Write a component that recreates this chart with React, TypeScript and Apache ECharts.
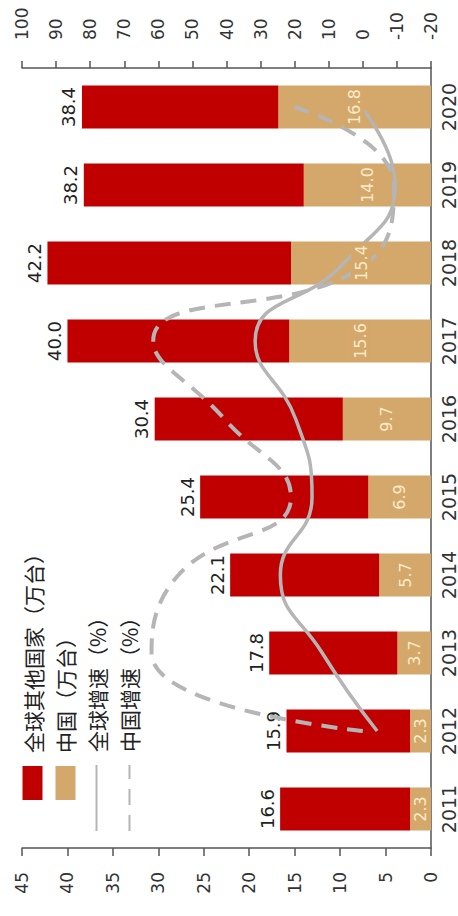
import React, { useEffect, useRef } from "react";
import * as echarts from "echarts";

const years = ["2011", "2012", "2013", "2014", "2015", "2016", "2017", "2018", "2019", "2020"];
const chinaUnits = [2.3, 2.3, 3.7, 5.7, 6.9, 9.7, 15.6, 15.4, 14.0, 16.8];
const otherUnits = [14.3, 13.6, 14.1, 16.4, 18.5, 20.7, 24.4, 26.8, 24.2, 21.6];
const totalLabels = ["16.6", "15.9", "17.8", "22.1", "25.4", "30.4", "40.0", "42.2", "38.2", "38.4"];
const globalGrowth = [null, -4.2, 11.9, 24.2, 14.9, 19.7, 31.6, 5.5, -9.5, 0.5];
const chinaGrowth = [null, 0.0, 62.0, 54.1, 21.1, 40.6, 61.5, -1.3, -9.1, 20.0];

const nameOther = "全球其他国家（万台）";
const nameChina = "中国（万台）";
const nameGlobalG = "全球增速（%）";
const nameChinaG = "中国增速（%）";

const RED = "#c00000";
const TAN = "#d4a76a";
const GREY = "#b5b5b5";
const AXIS = "#555555";
const NUM_FONT = "DejaVu Sans";
const CJK_FONT = "Noto Sans CJK SC";

export default function App() {
  const ref = useRef<HTMLDivElement>(null);
  useEffect(() => {
    if (!ref.current) return;
    const chart = echarts.init(ref.current, undefined, { renderer: "svg" });
    const axisLabelStyle = { color: "#333", fontSize: 17, fontFamily: NUM_FONT };
    const legendText = { color: "#222", fontSize: 21, fontFamily: CJK_FONT, lineHeight: 20, padding: [0, 0, 0, 8] };
    chart.setOption({
      animation: false,
      backgroundColor: "#ffffff",
      grid: { left: 68, right: 68, top: 22, bottom: 27, containLabel: false },
      legend: [
        {
          orient: "vertical",
          left: 111,
          top: 17,
          itemWidth: 34,
          itemHeight: 20,
          itemGap: 12,
          icon: "rect",
          data: [nameOther, nameChina],
          textStyle: legendText,
        },
        {
          orient: "vertical",
          left: 79,
          top: 81,
          itemWidth: 66,
          itemHeight: 20,
          itemGap: 12,
          itemStyle: { opacity: 0 },
          data: [nameGlobalG, nameChinaG],
          textStyle: legendText,
        },
      ],
      xAxis: {
        type: "category",
        data: years,
        axisLine: { show: true, lineStyle: { color: AXIS, width: 1.5 } },
        axisTick: { show: false },
        axisLabel: { color: "#333", fontSize: 19, fontFamily: NUM_FONT, margin: 8 },
      },
      yAxis: [
        {
          type: "value",
          min: 0,
          max: 45,
          interval: 5,
          position: "left",
          splitLine: { show: false },
          axisLine: { show: true, lineStyle: { color: AXIS, width: 1.5 } },
          axisTick: { show: true, length: 8, lineStyle: { color: AXIS, width: 1.5 } },
          axisLabel: { ...axisLabelStyle, margin: 24 },
        },
        {
          type: "value",
          min: -20,
          max: 100,
          interval: 10,
          position: "right",
          splitLine: { show: false },
          axisLine: { show: true, lineStyle: { color: AXIS, width: 1.5 } },
          axisTick: { show: true, length: 7, lineStyle: { color: AXIS, width: 1.5 } },
          axisLabel: { ...axisLabelStyle, margin: 28 },
        },
      ],
      series: [
        {
          name: nameChina,
          type: "bar",
          stack: "units",
          data: chinaUnits,
          barWidth: 43,
          barGap: "-100%",
          itemStyle: { color: TAN },
          z: 2,
        },
        {
          name: nameOther,
          type: "bar",
          stack: "units",
          data: otherUnits,
          barWidth: 43,
          barGap: "-100%",
          itemStyle: { color: RED },
          z: 2,
          label: {
            show: true,
            position: "top",
            distance: 4,
            color: "#222",
            fontSize: 18,
            fontFamily: NUM_FONT,
            formatter: (p: any) => totalLabels[p.dataIndex],
          },
        },
        {
          name: nameGlobalG,
          type: "line",
          yAxisIndex: 1,
          data: globalGrowth,
          smooth: 0.5,
          symbol: "none",
          connectNulls: false,
          lineStyle: { color: GREY, width: 3.5 },
          itemStyle: { color: GREY },
          z: 3,
        },
        {
          name: nameChinaG,
          type: "line",
          yAxisIndex: 1,
          data: chinaGrowth,
          smooth: 0.5,
          symbol: "none",
          lineStyle: { color: GREY, width: 4, type: [16, 10] },
          itemStyle: { color: GREY },
          z: 3,
        },
        {
          name: "chinaLabels",
          type: "bar",
          data: chinaUnits,
          barWidth: 43,
          barGap: "-100%",
          silent: true,
          itemStyle: { color: "rgba(0,0,0,0)" },
          z: 5,
          label: {
            show: true,
            position: "inside",
            color: "#fbeccb",
            fontSize: 16,
            fontFamily: NUM_FONT,
            backgroundColor: TAN,
            padding: [2, 3],
            formatter: (p: any) => chinaUnits[p.dataIndex].toFixed(1),
          },
        },
      ],
    });
    return () => chart.dispose();
  }, []);

  return (
    <div style={{ position: "absolute", left: 0, top: 0, width: 458, height: 916, overflow: "hidden", background: "#fff" }}>
      <div
        ref={ref}
        style={{
          position: "absolute",
          left: 0,
          top: 0,
          width: 916,
          height: 458,
          transformOrigin: "0 0",
          transform: "translateY(916px) rotate(-90deg)",
        }}
      />
    </div>
  );
}
